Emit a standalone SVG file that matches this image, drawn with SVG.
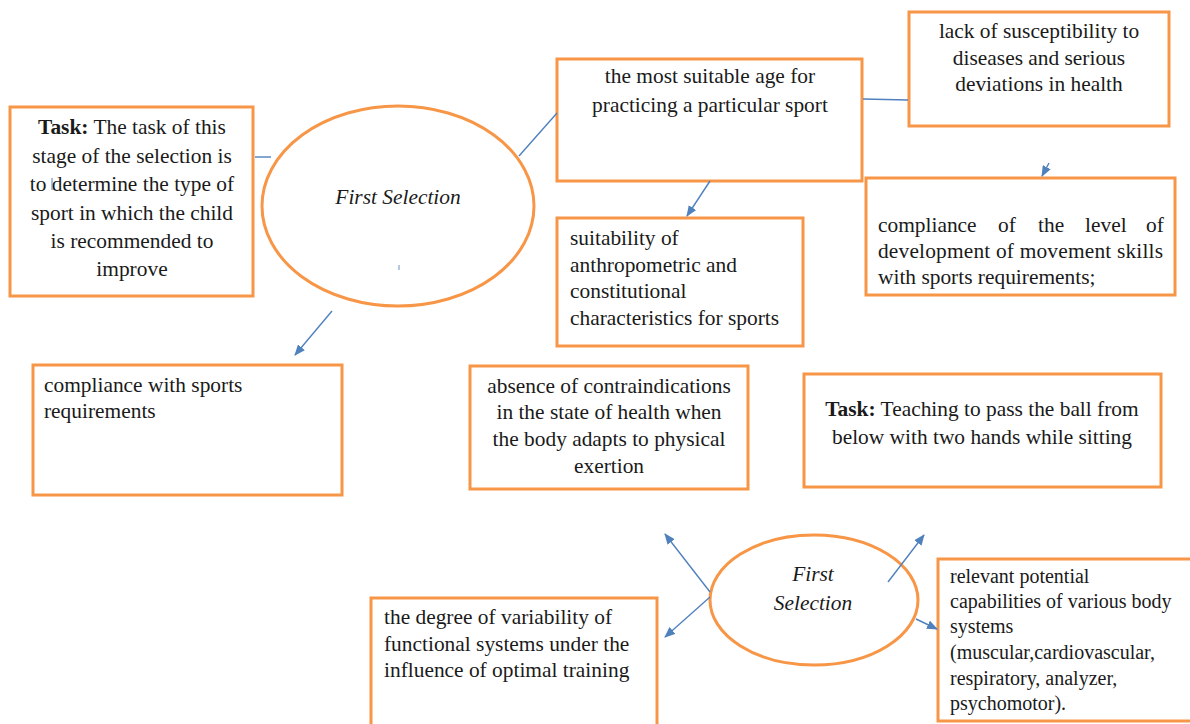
<svg xmlns="http://www.w3.org/2000/svg" width="1190" height="724" viewBox="0 0 1190 724">
<defs>
<style>
.box{fill:#fff;stroke:#F79646;stroke-width:3}
.ell{fill:#fff;stroke:#F79646;stroke-width:3}
.t{font-family:'Liberation Serif','Times New Roman',serif;font-size:21.4px;fill:#1a1a1a}
.s{font-family:'Liberation Serif','Times New Roman',serif;font-size:20px;fill:#1a1a1a}
.c{text-anchor:middle}
.i{font-style:italic}
.b{font-weight:bold}
.ln{stroke:#4F81BD;stroke-width:1.4;fill:none}
.ar{stroke:#4F81BD;stroke-width:1.4;fill:none;marker-end:url(#ah)}
</style>
<marker id="ah" markerWidth="11" markerHeight="9" refX="10" refY="4.5" orient="auto" markerUnits="userSpaceOnUse">
<path d="M0,0 L11,4.5 L0,9 Z" fill="#4F81BD"/>
</marker>
</defs>
<rect width="1190" height="724" fill="#fff"/>

<g id="task1">
<rect class="box" x="10" y="107" width="243" height="189"/>
<text class="t c" x="132" y="134"><tspan class="b">Task:</tspan> The task of this</text>
<text class="t c" x="132" y="163">stage of the selection is</text>
<text class="t c" x="132" y="191">to determine the type of</text>
<text class="t c" x="132" y="220">sport in which the child</text>
<text class="t c" x="132" y="248">is recommended to</text>
<text class="t c" x="132" y="276">improve</text>
<line x1="52" y1="178" x2="52" y2="190" stroke="#4F81BD" stroke-width="1"/>
</g>

<g id="first-selection-1">
<ellipse class="ell" cx="398" cy="206" rx="136" ry="100"/>
<text class="t c i" x="398" y="204">First Selection</text>
<line x1="399" y1="265" x2="399" y2="270" stroke="#6E8FBF" stroke-width="1"/>
</g>

<g id="suitable-age">
<rect class="box" x="557" y="59" width="305" height="122"/>
<text class="t c" x="710" y="83">the most suitable age for</text>
<text class="t c" x="710" y="112">practicing a particular sport</text>
</g>

<g id="susceptibility">
<rect class="box" x="909" y="12" width="260" height="114"/>
<text class="t c" x="1039" y="38">lack of susceptibility to</text>
<text class="t c" x="1039" y="65">diseases and serious</text>
<text class="t c" x="1039" y="91">deviations in health</text>
</g>

<g id="movement-skills">
<rect class="box" x="866" y="178" width="309" height="117"/>
<text class="t"><tspan x="878" y="232">compliance</tspan><tspan x="998" y="232">of</tspan><tspan x="1038" y="232">the</tspan><tspan x="1085" y="232">level</tspan><tspan x="1146" y="232">of</tspan></text>
<text class="t" x="878" y="258" textLength="285" lengthAdjust="spacing">development of movement skills</text>
<text class="t" x="878" y="284">with sports requirements;</text>
</g>

<g id="anthropometric">
<rect class="box" x="557" y="218" width="246" height="128"/>
<text class="t" x="570" y="245">suitability of</text>
<text class="t" x="570" y="272">anthropometric and</text>
<text class="t" x="570" y="298">constitutional</text>
<text class="t" x="570" y="325">characteristics for sports</text>
</g>

<g id="sports-requirements">
<rect class="box" x="33" y="365" width="309" height="130"/>
<text class="t" x="44" y="392">compliance with sports</text>
<text class="t" x="44" y="418">requirements</text>
</g>

<g id="contraindications">
<rect class="box" x="470" y="366" width="278" height="123"/>
<text class="t c" x="609" y="393">absence of contraindications</text>
<text class="t c" x="609" y="419">in the state of health when</text>
<text class="t c" x="609" y="446">the body adapts to physical</text>
<text class="t c" x="609" y="473">exertion</text>
</g>

<g id="task2">
<rect class="box" x="804" y="374" width="357" height="113"/>
<text class="t c" x="982" y="416"><tspan class="b">Task:</tspan> Teaching to pass the ball from</text>
<text class="t c" x="982" y="444">below with two hands while sitting</text>
</g>

<g id="first-selection-2">
<ellipse class="ell" cx="814" cy="600" rx="104" ry="65"/>
<text class="t c i" x="813" y="581">First</text>
<text class="t c i" x="813" y="610">Selection</text>
</g>

<g id="variability">
<rect class="box" x="371" y="598" width="286" height="130"/>
<text class="t" x="384" y="624">the degree of variability of</text>
<text class="t" x="384" y="651">functional systems under the</text>
<text class="t" x="384" y="677">influence of optimal training</text>
</g>

<g id="capabilities">
<rect class="box" x="938" y="559" width="256" height="162"/>
<text class="s" x="950" y="583">relevant potential</text>
<text class="s" x="950" y="608">capabilities of various body</text>
<text class="s" x="950" y="633">systems</text>
<text class="s" x="950" y="659">(muscular,cardiovascular,</text>
<text class="s" x="950" y="685">respiratory, analyzer,</text>
<text class="s" x="950" y="710">psychomotor).</text>
</g>

<g id="connectors">
<line class="ln" x1="255" y1="157" x2="271" y2="157"/>
<line class="ln" x1="519" y1="156" x2="557" y2="113"/>
<line class="ln" x1="863" y1="99" x2="908" y2="100"/>
<line class="ar" x1="1049" y1="163" x2="1042" y2="176"/>
<line class="ar" x1="710" y1="181" x2="687" y2="216"/>
<line class="ar" x1="332" y1="311" x2="295" y2="355"/>
<line class="ar" x1="710" y1="592" x2="665" y2="534"/>
<line class="ar" x1="710" y1="597" x2="665" y2="637"/>
<line class="ar" x1="888" y1="582" x2="924" y2="535"/>
<line class="ar" x1="916" y1="619" x2="937" y2="629"/>
</g>
</svg>
